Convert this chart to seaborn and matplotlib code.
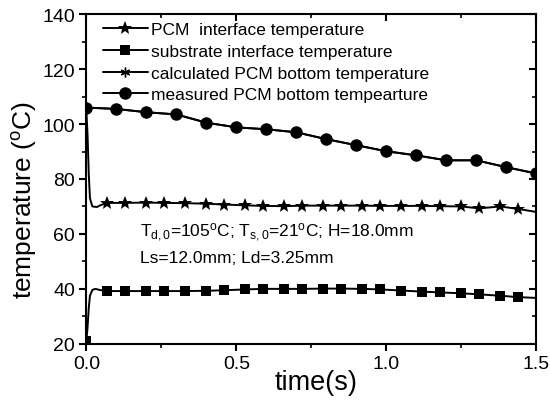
import numpy as np
import pandas as pd
import matplotlib
matplotlib.use("Agg")
import matplotlib.pyplot as plt
import seaborn as sns
from matplotlib.lines import Line2D

# ---- data -------------------------------------------------------------
# PCM interface temperature (calculated): initial transient + marked samples
pcm_t = [0.0, 0.004, 0.008, 0.012, 0.02, 0.035, 0.05,
         0.07, 0.13, 0.20, 0.26, 0.33, 0.40, 0.46, 0.53, 0.59, 0.66, 0.72,
         0.79, 0.85, 0.92, 0.98, 1.05, 1.12, 1.18, 1.25, 1.31, 1.38, 1.44, 1.50]
pcm_T = [105.0, 96.0, 82.0, 73.0, 70.0, 69.8, 70.6,
         71.3, 71.3, 71.4, 71.3, 71.2, 71.0, 70.7, 70.4, 70.2, 70.1, 70.3,
         70.3, 70.3, 70.3, 70.2, 70.2, 70.2, 70.1, 70.0, 69.3, 70.0, 69.1, 68.0]

# substrate interface temperature (calculated)
sub_t = [0.0, 0.004, 0.008, 0.012, 0.02, 0.03, 0.045,
         0.07, 0.13, 0.20, 0.26, 0.33, 0.40, 0.46, 0.53, 0.59, 0.66, 0.72,
         0.79, 0.85, 0.92, 0.98, 1.05, 1.12, 1.18, 1.25, 1.31, 1.38, 1.44, 1.50]
sub_T = [21.0, 26.0, 33.0, 37.5, 39.6, 40.0, 39.6,
         39.2, 39.2, 39.2, 39.2, 39.2, 39.3, 39.5, 39.8, 40.0, 40.0, 40.0,
         40.1, 40.1, 40.0, 39.8, 39.4, 39.0, 38.7, 38.4, 38.0, 37.5, 37.0, 36.7]

# PCM bottom temperature: calculated and measured
bot_t = [0.0, 0.1, 0.2, 0.3, 0.4, 0.5, 0.6, 0.7, 0.8, 0.9,
         1.0, 1.1, 1.2, 1.3, 1.4, 1.5]
calc_T = [106.0, 105.5, 104.3, 103.5, 100.5, 98.8, 98.1, 97.0, 94.5, 92.3,
          90.1, 88.6, 86.8, 86.8, 84.3, 82.0]
meas_T = [106.0, 105.5, 104.3, 103.5, 100.5, 98.8, 98.1, 97.0, 94.5, 92.3,
          90.1, 88.6, 86.8, 86.8, 84.3, 82.0]

labels = ["PCM  interface temperature",
          "substrate interface temperature",
          "calculated PCM bottom temperature",
          "measured PCM bottom tempearture"]

# ---- style ------------------------------------------------------------
sns.set_theme(style="ticks")
plt.rcParams["font.family"] = ["Liberation Sans", "DejaVu Sans"]
plt.rcParams["mathtext.fontset"] = "custom"
plt.rcParams["mathtext.rm"] = "Liberation Sans"
plt.rcParams["mathtext.it"] = "Liberation Sans"
plt.rcParams["mathtext.bf"] = "Liberation Sans:bold"
for key in ["text.color", "axes.labelcolor", "xtick.color", "ytick.color",
            "axes.edgecolor"]:
    plt.rcParams[key] = "black"

fig = plt.figure(figsize=(5.5, 4.1), dpi=100)
ax = fig.add_axes([0.157, 0.159, 0.818, 0.804])

lw = 1.4
mark_idx = list(range(7, 29))
ms_star, ms_sq, ms_ast, ms_circ = 10, 7, 7, 9

sns.lineplot(x=pcm_t, y=pcm_T, ax=ax, color="black", lw=lw, marker="*",
             markersize=ms_star, markevery=mark_idx, markeredgewidth=0,
             estimator=None, sort=False)
sns.lineplot(x=sub_t, y=sub_T, ax=ax, color="black", lw=lw, marker="s",
             markersize=ms_sq, markevery=[0] + mark_idx, markeredgewidth=0,
             estimator=None, sort=False)
sns.lineplot(x=bot_t, y=calc_T, ax=ax, color="black", lw=lw, marker=(6, 2, 0),
             markersize=ms_ast, markeredgewidth=1, estimator=None, sort=False)
sns.lineplot(x=bot_t, y=meas_T, ax=ax, color="black", lw=lw, marker="o",
             markersize=ms_circ, markeredgewidth=0, estimator=None, sort=False)

ax.set_xlim(0, 1.5)
ax.set_ylim(20, 140)
ax.set_xticks([0.0, 0.5, 1.0, 1.5])
ax.set_xticks([0.25, 0.75, 1.25], minor=True)
ax.set_yticks(np.arange(20, 141, 20))
ax.set_yticks(np.arange(30, 140, 20), minor=True)
ax.set_xticklabels(["0.0", "0.5", "1.0", "1.5"])

for s in ax.spines.values():
    s.set_linewidth(1.5)
    s.set_color("black")

ax.tick_params(which="major", direction="out", length=5, width=1.5,
               labelsize=14, colors="black", pad=3)
ax.tick_params(which="minor", direction="out", length=3, width=1.2,
               colors="black")

# inward ticks on top and right
top = ax.secondary_xaxis("top")
top.set_xticks([0.0, 0.5, 1.0, 1.5])
top.set_xticks([0.25, 0.75, 1.25], minor=True)
top.tick_params(which="major", direction="in", length=5, width=1.5, labeltop=False)
top.tick_params(which="minor", direction="in", length=3, width=1.2)
right = ax.secondary_yaxis("right")
right.set_yticks(np.arange(20, 141, 20))
right.set_yticks(np.arange(30, 140, 20), minor=True)
right.tick_params(which="major", direction="in", length=5, width=1.5, labelright=False)
right.tick_params(which="minor", direction="in", length=3, width=1.2)

ax.set_xlabel("time(s)", fontsize=19.5)
ax.set_ylabel("temperature ($^{\\mathrm{o}}$C)", fontsize=19)
ax.xaxis.set_label_coords(0.51, -0.075)
ax.yaxis.set_label_coords(-0.106, 0.44)

handles = [
    Line2D([], [], color="black", lw=lw, marker="*", markersize=ms_star, markeredgewidth=0),
    Line2D([], [], color="black", lw=lw, marker="s", markersize=ms_sq, markeredgewidth=0),
    Line2D([], [], color="black", lw=lw, marker=(6, 2, 0), markersize=ms_ast, markeredgewidth=1),
    Line2D([], [], color="black", lw=lw, marker="o", markersize=ms_circ, markeredgewidth=0),
]
ax.legend(handles, labels, loc="upper left", frameon=False, fontsize=12.5,
          handlelength=2.6, handletextpad=0.2, labelspacing=0.38,
          borderaxespad=0.0, borderpad=0.0, bbox_to_anchor=(0.036, 0.976))

ax.text(0.178, 60.7,
        "T$_{\\mathrm{d,0}}$=105$^{\\mathrm{o}}$C; T$_{\\mathrm{s,0}}$=21$^{\\mathrm{o}}$C; H=18.0mm",
        fontsize=12.5, va="center", ha="left")
ax.text(0.178, 51.4, "Ls=12.0mm; Ld=3.25mm",
        fontsize=12.5, va="center", ha="left")

fig.savefig("out.png", dpi=100, facecolor="white")
